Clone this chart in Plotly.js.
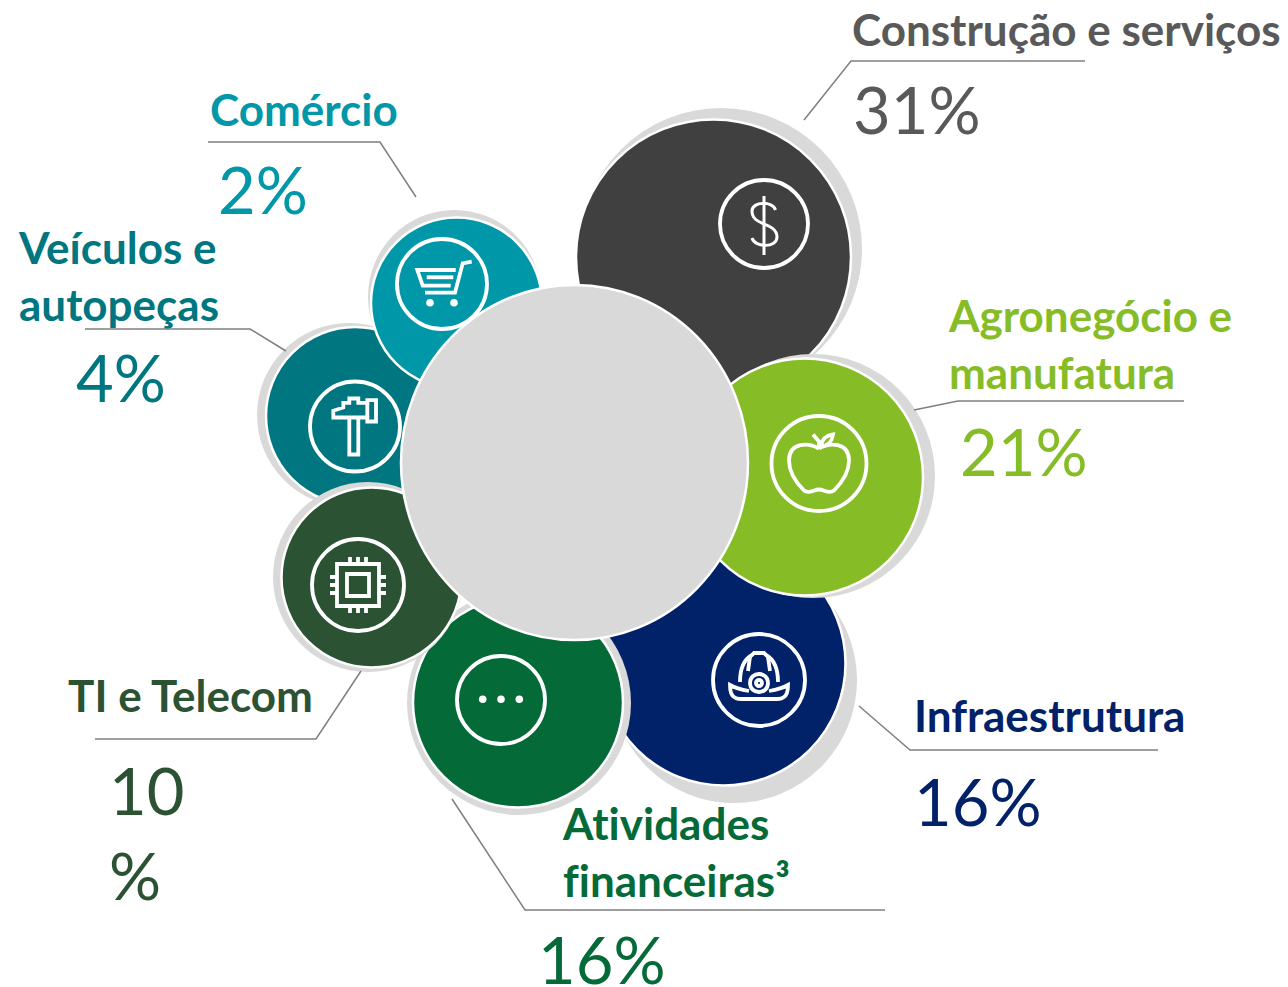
<!DOCTYPE html>
<html>
<head>
<meta charset="utf-8">
<script src="https://cdn.plot.ly/plotly-3.0.1.min.js"></script>
<style>html,body{margin:0;padding:0;background:#fff}#chart{width:1288px;height:987px}
svg text{font-variant-ligatures:none;font-feature-settings:"liga" 0,"clig" 0}</style>
</head>
<body>
<div id="chart"></div>
<script>
// Data
var categories = ['Construção e serviços','Infraestrutura','Agronegócio e<br>manufatura','Atividades<br>financeiras³','Veículos e<br>autopeças','Comércio','TI e Telecom'];
var shares = [31,16,21,16,4,2,10];
var shareLabels = ['31%','16%','21%','16%','4%','2%','10<br>%'];

// Layout of the infographic (pixel space)
var colors = ['#404040','#012169','#86BC25','#046A38','#007680','#0097A9','#2C5234'];
var textColors = ['#595959','#012169','#86BC25','#046A38','#007680','#0097A9','#2C5234'];
var bubbleX = [713.5,723.5,804.5,518,355,456.5,371.5];
var bubbleY = [257,663.5,477,702.5,416,303,577.5];
var bubbleD = [275,244,237,210,178,171,180];
var shadowX = [721,734,813,519,349,454.5,368];
var shadowY = [249,680,476,703,415,296.5,577];
var shadowD = [282,246,244,224,184,173,190];
var nameX = [851,913,947,561,17,209,67];
var nameY = [29,715,343,851,275,109,695];
var shareX = [852,913,959,537,75,217,108];
var shareY = [109,801,451,959,377,189,832];
var leaderX = [[804,851,1085],[859,910,1158],[914,958,1184],[452,525,885],[286,250,85],[416,380,208],[361,316,95]];
var leaderY = [[120,61,61],[706,750,750],[410,401,401],[799,910,910],[351,329,329],[197,142,142],[671,739,739]];
var iconX = [764,759,819,501,355,442,358];
var iconY = [224,680,463.5,700,426.5,284,585];
var iconR = [44,46,47.5,44,45,45,46];
var hubX = [401,748], hubY = [285,640];
var shadowColor = '#D9D9D9';

var iconPaths = [
  ['M0,-28 L0,31','M11.5,-14 C9,-23 -12,-23 -12,-13 C-12,-4 -4,-2 0,0 C5,2 13,5 13,13 C13,24 -9,24 -12,14'],
  ['M-19,2 C-19,-10 -16,-20 -7,-25 L-5,-27 L5,-27 L7,-25 C16,-20 19,-10 19,2',
   'M-10,11 C-16,10 -24,8 -29,5 C-29,10 -28,15 -25,17 C-23,19 -21,19 -18,19 L18,19 C21,19 23,19 25,17 C28,15 29,10 29,5 C24,8 16,10 10,11',
   'M-9,-23 L-11,-9 M9,-23 L11,-9',
   'M-9,3 C-9,-9 9,-9 9,3 C9,15 -9,15 -9,3 Z',
   'M-3,3 C-3,-1 3,-1 3,3 C3,7 -3,7 -3,3 Z'],
  ['M0,-15 C10,-21 30,-22 30,-3 C30,10 20,22 15,27 C10,31 5,26 0,26 C-5,26 -10,31 -15,27 C-20,22 -30,10 -30,-3 C-30,-22 -10,-21 0,-15',
   'M-6,-29 L0,-22 L0,-16','M2,-17 C3,-25 7,-28 14,-29 C13,-22 10,-18 2,-17 Z'],
  [],
  ['M-21.7,-9 L-21.7,-15.7 L-11.7,-19 L-11.7,-23.7 L-5.7,-23.7 L-5.7,-28 L3.3,-28 L3.3,-23.7 L12.3,-23.7 L12.3,-26.3 L21,-26.3 L21,-5 L12.3,-5 L12.3,-9 Z',
   'M12.3,-23.7 L12.3,-9','M-5.7,-9 L-5.7,28 L3.3,28 L3.3,-9'],
  ['M29.7,-22.3 L20.7,-20.7 L13,8.7 L-17,8.7','M13.7,-14 L-24.7,-14 L-19.3,1.7 L8.7,1.7','M-15.3,-6.7 L11.3,-6.7'],
  ['M-21,-21 L21,-21 L21,21 L-21,21 Z','M-11,-11 L11,-11 L11,11 L-11,11 Z',
   'M-8,-28 L-8,-21 M0,-28 L0,-21 M8,-28 L8,-21 M-8,21 L-8,28 M0,21 L0,28 M8,21 L8,28',
   'M-28,-8 L-21,-8 M-28,0 L-21,0 M-28,8 L-21,8 M21,-8 L28,-8 M21,0 L28,0 M21,8 L28,8']
];
var iconDots = [[],[],[],[[-18.3,-0.7],[0,-0.7],[18.3,-0.7]],[],[[-12,18.7],[12,18.7]],[]];
var dotR = 3.8;

function movePath(p, dx, dy){
  return p.replace(/(-?[\d.]+),(-?[\d.]+)/g, function(m,a,b){
    return (parseFloat(a)+dx).toFixed(1)+','+(parseFloat(b)+dy).toFixed(1);
  });
}

// Bubbles, through the library's scales
var traces = categories.map(function(c,i){
  return {
    type:'scatter', mode:'markers', name:c.replace('<br>',' '),
    x:[shadowX[i],bubbleX[i]], y:[shadowY[i],bubbleY[i]],
    marker:{size:[shadowD[i],bubbleD[i]], color:[shadowColor,colors[i]], opacity:1,
            line:{color:['rgba(0,0,0,0)','#FFFFFF'],width:[0,2.5]}},
    text:[ '', c.replace('<br>',' ')+': '+shares[i]+'%' ],
    hoverinfo:'text', showlegend:false, cliponaxis:false
  };
});

var shapes = [];
// central disc
shapes.push({type:'circle',layer:'above',xref:'x',yref:'y',x0:hubX[0],x1:hubX[1],y0:hubY[0],y1:hubY[1],
  fillcolor:shadowColor,line:{color:'#FFFFFF',width:2.5}});
categories.forEach(function(c,i){
  // leader
  var d = leaderX[i].map(function(x,k){return (k?'L':'M')+x+','+leaderY[i][k];}).join(' ');
  shapes.push({type:'path',layer:'above',xref:'x',yref:'y',path:d,line:{color:'#7F7F7F',width:1.5}});
  // icon ring
  shapes.push({type:'circle',layer:'above',xref:'x',yref:'y',
    x0:iconX[i]-iconR[i],x1:iconX[i]+iconR[i],y0:iconY[i]-iconR[i],y1:iconY[i]+iconR[i],
    line:{color:'#FFFFFF',width:3.8}});
  iconPaths[i].forEach(function(p){
    shapes.push({type:'path',layer:'above',xref:'x',yref:'y',path:movePath(p,iconX[i],iconY[i]),
      line:{color:'#FFFFFF',width:i===0?3:3.8}});
  });
  iconDots[i].forEach(function(q){
    shapes.push({type:'circle',layer:'above',xref:'x',yref:'y',
      x0:iconX[i]+q[0]-dotR,x1:iconX[i]+q[0]+dotR,y0:iconY[i]+q[1]-dotR,y1:iconY[i]+q[1]+dotR,
      fillcolor:'#FFFFFF',line:{width:0}});
  });
});

var FONT = 'Lato, Carlito, Calibri, sans-serif';
var annotations = [];
categories.forEach(function(c,i){
  annotations.push({x:nameX[i],y:nameY[i],xref:'x',yref:'y',text:'<b>'+c.replace('<br>','</b><br><b>')+'</b>',showarrow:false,
    xanchor:'left',yanchor:'middle',align:'left',borderpad:0,
    font:{family:FONT,size:44,color:textColors[i]}});
  annotations.push({x:shareX[i],y:shareY[i],xref:'x',yref:'y',text:shareLabels[i],showarrow:false,
    xanchor:'left',yanchor:'middle',align:'left',borderpad:0,
    font:{family:FONT,size:65,color:textColors[i]}});
});

Plotly.newPlot('chart',traces,{
  width:1288,height:987,margin:{l:0,r:0,t:0,b:0},
  paper_bgcolor:'#FFFFFF',plot_bgcolor:'#FFFFFF',
  xaxis:{range:[0,1288],visible:false,fixedrange:true},
  yaxis:{range:[987,0],visible:false,fixedrange:true},
  shapes:shapes,annotations:annotations,showlegend:false,hovermode:'closest'
},{displayModeBar:false,staticPlot:false});
</script>
</body>
</html>
